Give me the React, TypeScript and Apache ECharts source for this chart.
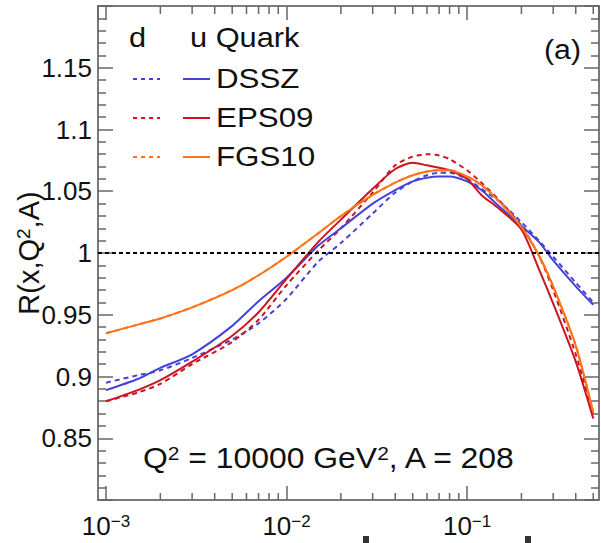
import React, { useEffect, useRef } from "react";
import * as echarts from "echarts";

// x values (log scale)
const xs = [0.001, 0.0015, 0.002, 0.003, 0.005, 0.007, 0.01, 0.015, 0.02, 0.03, 0.04, 0.05, 0.06, 0.07, 0.08, 0.1, 0.12, 0.15, 0.2, 0.25, 0.3, 0.4, 0.5];

const dsszD = [0.895, 0.901, 0.905, 0.915, 0.930, 0.943, 0.963, 0.993, 1.008, 1.032, 1.049, 1.058, 1.063, 1.065, 1.065, 1.060, 1.052, 1.042, 1.025, 1.010, 0.997, 0.976, 0.960];
const dsszU = [0.889, 0.898, 0.907, 0.918, 0.941, 0.961, 0.980, 1.006, 1.020, 1.040, 1.051, 1.058, 1.061, 1.062, 1.062, 1.058, 1.051, 1.038, 1.022, 1.009, 0.994, 0.973, 0.958];
const eps09D = [0.880, 0.887, 0.894, 0.910, 0.928, 0.946, 0.974, 1.002, 1.020, 1.049, 1.071, 1.078, 1.080, 1.079, 1.076, 1.067, 1.057, 1.043, 1.022, 0.998, 0.970, 0.918, 0.870];
const eps09U = [0.880, 0.889, 0.897, 0.912, 0.933, 0.952, 0.979, 1.009, 1.027, 1.052, 1.068, 1.073, 1.071, 1.069, 1.067, 1.060, 1.047, 1.036, 1.019, 0.987, 0.959, 0.912, 0.866];
const fgs10D = [0.935, 0.942, 0.947, 0.956, 0.970, 0.982, 0.997, 1.016, 1.030, 1.047, 1.057, 1.063, 1.066, 1.067, 1.067, 1.062, 1.055, 1.042, 1.021, 0.998, 0.973, 0.925, 0.871];
const fgs10U = [0.935, 0.942, 0.947, 0.956, 0.970, 0.982, 0.997, 1.016, 1.030, 1.047, 1.057, 1.063, 1.066, 1.067, 1.067, 1.062, 1.055, 1.042, 1.021, 0.998, 0.973, 0.925, 0.871];

const xMinorTicks = [0.002, 0.003, 0.004, 0.005, 0.006, 0.007, 0.008, 0.009, 0.02, 0.03, 0.04, 0.05, 0.06, 0.07, 0.08, 0.09, 0.2, 0.3, 0.4, 0.5];

const modelNames = ["DSSZ", "EPS09", "FGS10"];
const modelColors = ["#4343d8", "#cc1420", "#ff7418"];

const X_MIN = 0.000903;
const X_MAX = 0.538;
const Y_MIN = 0.8;
const Y_MAX = 1.2;

const FONT = "Liberation Sans, Arial, sans-serif";
const FRAME = "#7a7a7a";

export default function App() {
  const ref = useRef<HTMLDivElement>(null);
  useEffect(() => {
    if (!ref.current) return;
    const chart = echarts.init(ref.current, undefined, { renderer: "svg" });
    const pairs = (ys: number[]) => xs.map((x, i) => [x, ys[i]]);
    const lineSeries = (name: string, ys: number[], color: string, dashed: boolean) => ({
      type: "line",
      name,
      data: pairs(ys),
      showSymbol: false,
      smooth: 0.25,
      lineStyle: { color, width: 2, type: dashed ? [5, 4] : "solid" },
      z: dashed ? 3 : 4,
    });
    const xLabelFmt = (v: number) => {
      const e = Math.log10(v);
      if (Math.abs(e - Math.round(e)) > 0.01) return "";
      return "{b|10}{s|\u2212" + Math.abs(Math.round(e)) + "}";
    };
    const tickStyle = { color: "#666", width: 1.5 };
    const option: any = {
      animation: false,
      grid: { left: 98, top: 6, right: 2, bottom: 43, containLabel: false, outerBoundsMode: "none" },
      xAxis: [
        {
          type: "log",
          logBase: 10,
          min: X_MIN,
          max: X_MAX,
          position: "bottom",
          axisLine: { show: true, lineStyle: { color: FRAME, width: 2 } },
          axisTick: { show: true, inside: true, length: 14, lineStyle: tickStyle },
          axisLabel: {
            formatter: xLabelFmt,
            margin: 13,
            showMinLabel: false,
            showMaxLabel: false,
            color: "#111",
            fontFamily: FONT,
            rich: {
              b: { fontSize: 26, fontFamily: FONT, color: "#111" },
              s: { fontSize: 17, fontFamily: FONT, color: "#111", verticalAlign: "top" },
            },
          },
          splitLine: { show: false },
        },
        {
          type: "log",
          logBase: 10,
          min: X_MIN,
          max: X_MAX,
          position: "top",
          axisLine: { show: true, lineStyle: { color: FRAME, width: 2 } },
          axisTick: { show: true, inside: true, length: 14, lineStyle: tickStyle },
          axisLabel: { show: false },
          splitLine: { show: false },
        },
      ],
      yAxis: [
        {
          type: "value",
          min: Y_MIN,
          max: Y_MAX,
          interval: 0.05,
          position: "left",
          name: "{n|R(x,Q}{s|2}{n|,A)}",
          nameLocation: "middle",
          nameRotate: 90,
          nameGap: 55,
          nameMoveOverlap: false,
          nameTextStyle: {
            color: "#111",
            rich: {
              n: { fontSize: 29, fontFamily: FONT, color: "#111" },
              s: { fontSize: 19, fontFamily: FONT, color: "#111", verticalAlign: "top" },
            },
          },
          axisLine: { show: true, lineStyle: { color: FRAME, width: 2 } },
          axisTick: { show: true, inside: true, length: 15, lineStyle: tickStyle },
          minorTick: { show: true, splitNumber: 5, length: 8, lineStyle: tickStyle },
          axisLabel: {
            formatter: (v: number) => (v < 0.81 || v > 1.19 ? "" : String(+v.toFixed(2))),
            fontSize: 26,
            fontFamily: FONT,
            color: "#111",
            margin: 6,
          },
          splitLine: { show: false },
          minorSplitLine: { show: false },
        },
        {
          type: "value",
          min: Y_MIN,
          max: Y_MAX,
          interval: 0.05,
          position: "right",
          axisLine: { show: true, lineStyle: { color: FRAME, width: 2 } },
          axisTick: { show: true, inside: true, length: 15, lineStyle: tickStyle },
          minorTick: { show: true, splitNumber: 5, length: 8, lineStyle: tickStyle },
          axisLabel: { show: false },
          splitLine: { show: false },
          minorSplitLine: { show: false },
        },
      ],
      series: [
        {
          type: "custom",
          name: "xMinorTicks",
          data: xMinorTicks.map((v) => [v, Y_MIN]),
          silent: true,
          z: 1,
          renderItem: (params: any, api: any) => {
            const p = api.coord([api.value(0), api.value(1)]);
            const cs = params.coordSys;
            const bottom = cs.y + cs.height;
            return {
              type: "group",
              children: [
                { type: "line", shape: { x1: p[0], y1: bottom, x2: p[0], y2: bottom - 7 }, style: { stroke: "#666", lineWidth: 1.5 } },
                { type: "line", shape: { x1: p[0], y1: cs.y, x2: p[0], y2: cs.y + 8 }, style: { stroke: "#666", lineWidth: 1.5 } },
              ],
            };
          },
        },
        {
          ...lineSeries("DSSZ d", dsszD, modelColors[0], true),
          markLine: {
            silent: true,
            symbol: ["none", "none"],
            label: { show: false },
            lineStyle: { color: "#000", type: [4, 3], width: 2 },
            data: [{ yAxis: 1 }],
          },
        },
        lineSeries("DSSZ u", dsszU, modelColors[0], false),
        lineSeries("EPS09 d", eps09D, modelColors[1], true),
        lineSeries("EPS09 u", eps09U, modelColors[1], false),
        lineSeries("FGS10 d", fgs10D, modelColors[2], true),
        lineSeries("FGS10 u", fgs10U, modelColors[2], false),
      ],
      graphic: [
        { type: "text", x: 129, y: 38, scaleX: 1.14, style: { text: "d", font: "27px " + FONT, fill: "#111", verticalAlign: "middle" } },
        { type: "text", x: 190, y: 38, scaleX: 1.14, style: { text: "u Quark", font: "27px " + FONT, fill: "#111", verticalAlign: "middle" } },
        ...modelNames.flatMap((n, i) => {
          const y = 79 + i * 39;
          return [
            { type: "line", shape: { x1: 133, y1: y, x2: 160, y2: y }, style: { stroke: modelColors[i], lineWidth: 2, lineDash: [4, 4] } },
            { type: "line", shape: { x1: 183, y1: y, x2: 210, y2: y }, style: { stroke: modelColors[i], lineWidth: 2 } },
            { type: "text", x: 216, y, scaleX: 1.16, style: { text: n, font: "27px " + FONT, fill: "#111", verticalAlign: "middle" } },
          ];
        }),
        { type: "text", x: 544, y: 50, scaleX: 1.12, style: { text: "(a)", font: "27px " + FONT, fill: "#111", verticalAlign: "middle" } },
        {
          type: "text",
          x: 143,
          y: 458,
          scaleX: 1.1,
          style: {
            text: "{n|Q}{s|2}{n| = 10000 GeV}{s|2}{n|, A = 208}",
            verticalAlign: "middle",
            rich: {
              n: { fontSize: 29, fontFamily: FONT, fill: "#111", color: "#111" },
              s: { fontSize: 19, fontFamily: FONT, fill: "#111", color: "#111", verticalAlign: "top" },
            },
          },
        },
        { type: "rect", shape: { x: 363, y: 536, width: 6, height: 7 }, style: { fill: "#333" } },
        { type: "rect", shape: { x: 525, y: 536, width: 6, height: 7 }, style: { fill: "#333" } },
      ],
    };
    chart.setOption(option);
    return () => chart.dispose();
  }, []);
  return <div ref={ref} style={{ position: "fixed", left: 0, top: 0, width: 601, height: 543, background: "#fff" }} />;
}
